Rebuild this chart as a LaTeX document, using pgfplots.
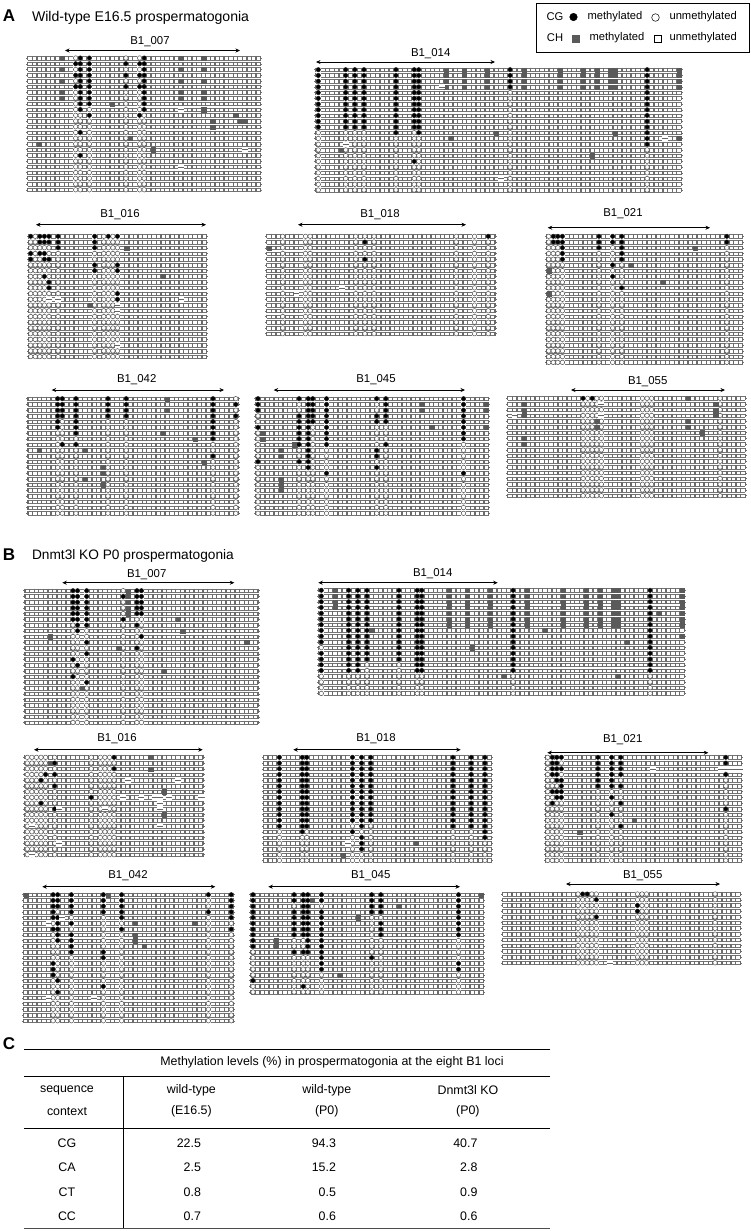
\documentclass[border=0pt]{standalone}
\usepackage{fontspec}
\setmainfont{Liberation Sans}
\usepackage{pgfplots}
\pgfplotsset{compat=1.18}
\usetikzlibrary{arrows.meta}
\pgfdeclareplotmark{wcell}{\pgfsetfillcolor{white}\pgfpathrectangle{\pgfpoint{-2.2pt}{-2.2pt}}{\pgfpoint{4.4pt}{4.4pt}}\pgfusepathqfill}
\pgfdeclareplotmark{miss}{\pgfsetfillcolor{white}\pgfpathrectangle{\pgfpoint{-2.9pt}{-2.4pt}}{\pgfpoint{5.8pt}{4.8pt}}\pgfusepathqfill\pgfpathmoveto{\pgfpoint{-3pt}{0pt}}\pgfpathlineto{\pgfpoint{3pt}{0pt}}\pgfusepathqstroke}
\definecolor{mgray}{HTML}{5A5A5A}
\pgfplotsset{
 panel/.style={hide axis,clip=false,x=4.567pt,y=5.73pt,y dir=reverse,anchor=north west,unbounded coords=jump},
 rowsty/.style={black!55,line width=0.45pt,no markers},
 railsty/.style={black!55,line width=0.35pt,no markers},
 rungsty/.style={black!58,line width=1.3pt,no markers,dash pattern=on 3.95pt off 1.78pt},
 wcsty/.style={only marks,mark=wcell},
 cisty/.style={only marks,mark=*,mark size=2.25pt,mark options={fill=white,draw=black!70,line width=0.5pt}},
 blsty/.style={only marks,mark=*,mark size=2pt,mark options={fill=black,draw=black,line width=0.2pt}},
 grsty/.style={only marks,mark=square*,mark size=2.1pt,mark options={fill=mgray,draw=mgray,line width=0.2pt}},
 misty/.style={only marks,mark=miss,mark options={draw=black!60,line width=0.45pt}},
}
\newcommand\MakeGrid[3]{%
 \gdef\cirlist{}\gdef\rowlist{}\gdef\raillist{}\gdef\runglist{}%
 \pgfmathtruncatemacro\lastr{#1-1}%
 \pgfmathsetmacro\rowend{#2+0.85}%
 \pgfmathsetmacro\railend{#2+0.5}%
 \pgfmathsetmacro\rungbot{#1-1+0.345}%
 \pgfmathtruncatemacro\lastrung{#2+1}%
 \foreach \cc in {0,...,\lastrung}{%
  \pgfmathsetmacro\xr{\cc-0.5}%
  \xdef\runglist{\runglist(\xr,-0.345)(\xr,\rungbot)(nan,nan)}%
 }%
 \foreach \rr in {0,...,\lastr}{%
  \pgfmathsetmacro\ru{\rr-0.314}\pgfmathsetmacro\rd{\rr+0.314}%
  \xdef\rowlist{\rowlist(-0.85,\rr)(-0.5,\rr)(nan,nan)(\railend,\rr)(\rowend,\rr)(nan,nan)}%
  \xdef\raillist{\raillist(-0.5,\ru)(\railend,\ru)(nan,nan)(-0.5,\rd)(\railend,\rd)(nan,nan)}%
  \foreach \cc in {#3}{\xdef\cirlist{\cirlist(\cc,\rr)}}%
 }%
}
\newcommand\ExpandRows[2]{%
 \gdef#1{}%
 \def\tmpa{#2}%
 \ifx\tmpa\empty\else
 \foreach \rs/\cols in {#2}{%
  \foreach \rr in \rs{\foreach \cc in \cols{\xdef#1{#1(\cc,\rr)}}}}%
 \fi
}
\newcommand\PlotList[2]{%
 \ifx#2\empty\else
 \edef\tmpb{\noexpand\addplot[#1] coordinates {#2};}\tmpb
 \fi
}
% x0, y0, rows, last column, circle columns, black, gray, missing
\newcommand\Panel[8]{%
 \MakeGrid{#3}{#4}{#5}%
 \ExpandRows\blist{#6}\ExpandRows\glist{#7}\ExpandRows\mlist{#8}%
 \pgfmathsetmacro\ax{#1-4.567}\pgfmathsetmacro\ay{#2-5.73}%
 \pgfmathtruncatemacro\xm{#4+1}\pgfmathtruncatemacro\ym{#3}%
 \begin{axis}[panel,at={(\ax pt,-\ay pt)},xmin=-1,xmax=\xm,ymin=-1,ymax=\ym]
 \PlotList{rowsty}\rowlist
 \PlotList{railsty}\raillist
 \PlotList{rungsty}\runglist
 \PlotList{wcsty}\cirlist
 \PlotList{cisty}\cirlist
 \PlotList{grsty}\glist
 \PlotList{blsty}\blist
 \PlotList{misty}\mlist
 \end{axis}%
}
\newcommand\Lab[6]{%
 \node[font=\fontsize{11.4}{13}\selectfont] at (axis cs:#1,#2) {#3};
 \addplot[black,line width=0.6pt,no markers,{Stealth[length=4.5pt,width=4pt]}-{Stealth[length=4.5pt,width=4pt]}] coordinates {(#4,#6)(#5,#6)};
}
\newcommand\T[3]{\node[font=\fontsize{12.4}{14}\selectfont] at (axis cs:#1,#2) {#3};}
\newcommand\TR[3]{\node[anchor=east,font=\fontsize{12.4}{14}\selectfont] at (axis cs:#1,#2) {#3};}
\newcommand\LG[4]{\node[anchor=#4,font=\fontsize{11.2}{13}\selectfont] at (axis cs:#1,#2) {#3};}
\begin{document}
\begin{tikzpicture}
\path[use as bounding box] (0,0) rectangle (750pt,-1231pt);
\begin{axis}[hide axis,clip=false,x=1pt,y=1pt,y dir=reverse,anchor=north west,at={(0,0)},xmin=0,xmax=750,ymin=0,ymax=1231]
\node[font=\fontsize{17}{19}\selectfont\bfseries] at (axis cs:9,15.5) {A};
\node[font=\fontsize{17}{19}\selectfont\bfseries] at (axis cs:9,555) {B};
\node[font=\fontsize{17}{19}\selectfont\bfseries] at (axis cs:9,1044) {C};
\node[anchor=west,font=\fontsize{14.1}{16}\selectfont] at (axis cs:28.5,18) {Wild-type E16.5 prospermatogonia};
\node[anchor=west,font=\fontsize{13.7}{16}\selectfont] at (axis cs:28.5,556) {Dnmt3l KO P0 prospermatogonia};
\Lab{150}{42}{B1\_007}{65}{240}{50.5}
\Lab{430.7}{54}{B1\_014}{316}{495}{62}
\Lab{120}{214.7}{B1\_016}{36}{206}{224.7}
\Lab{380}{214.7}{B1\_018}{298}{466}{224.7}
\Lab{623}{214}{B1\_021}{547.7}{710}{227.7}
\Lab{136.7}{380}{B1\_042}{51.7}{224}{390}
\Lab{376}{380}{B1\_045}{273.7}{465}{390}
\Lab{647.7}{382}{B1\_055}{571}{725}{390}
\Lab{146.7}{575}{B1\_007}{62.3}{234.3}{582.7}
\Lab{432.7}{574}{B1\_014}{318.3}{497.7}{582.7}
\Lab{117}{739}{B1\_016}{34}{202.7}{749.7}
\Lab{376}{739}{B1\_018}{293.3}{460.7}{749.7}
\Lab{622.7}{739.3}{B1\_021}{547.3}{708.3}{752.7}
\Lab{128}{875.7}{B1\_042}{42.3}{215.3}{886.7}
\Lab{370.7}{875.7}{B1\_045}{268.3}{460}{886.7}
\Lab{642.7}{875.7}{B1\_055}{566}{720}{884}
% legend
\addplot[black,line width=0.7pt,no markers] coordinates {(536,3)(749,3)(749,52)(536,52)(536,3)};
\LG{555}{16.5}{CG}{center}
\LG{555}{38}{CH}{center}
\addplot[only marks,mark=*,mark size=3.8pt,mark options={fill=black,draw=black}] coordinates {(573.5,17)};
\addplot[only marks,mark=*,mark size=3.8pt,mark options={fill=white,draw=black,line width=0.5pt}] coordinates {(655.5,17.5)};
\addplot[only marks,mark=square*,mark size=3.6pt,mark options={fill=mgray,draw=mgray}] coordinates {(576,38.5)};
\addplot[only marks,mark=square*,mark size=3.6pt,mark options={fill=white,draw=black,line width=0.5pt}] coordinates {(657.5,38.5)};
\LG{584}{16.5}{methylated}{west}
\LG{666}{16.5}{unmethylated}{west}
\LG{586}{38}{methylated}{west}
\LG{666}{38}{unmethylated}{west}
% table rules
\addplot[black,line width=0.8pt,no markers] coordinates {(24,1049)(550,1049)};
\addplot[black,line width=0.8pt,no markers] coordinates {(24,1076)(550,1076)};
\addplot[black,line width=0.8pt,no markers] coordinates {(24,1128)(550,1128)};
\addplot[black!70,line width=1pt,no markers] coordinates {(24,1228)(550,1228)};
\addplot[black,line width=0.8pt,no markers] coordinates {(123,1076)(123,1228)};
\T{332}{1062}{Methylation levels (\%) in prospermatogonia at the eight B1 loci}
\T{67}{1090}{sequence}\T{67}{1111.7}{context}
\T{191.4}{1090}{wild-type}\T{191.4}{1111.7}{(E16.5)}
\T{326.8}{1090}{wild-type}\T{326.8}{1111.7}{(P0)}
\T{467.9}{1090}{Dnmt3l KO}\T{467.9}{1111.7}{(P0)}
\T{67}{1143.3}{CG}\T{67}{1167.7}{CA}\T{67}{1192}{CT}\T{67}{1216}{CC}
\TR{204.5}{1143.3}{22.5}\TR{339.5}{1143.3}{94.3}\TR{481}{1143.3}{40.7}
\TR{204.5}{1167.7}{2.5}\TR{339.5}{1167.7}{15.2}\TR{481}{1167.7}{2.8}
\TR{204.5}{1192}{0.8}\TR{339.5}{1192}{0.5}\TR{481}{1192}{0.9}
\TR{204.5}{1216}{0.7}\TR{339.5}{1216}{0.6}\TR{481}{1216}{0.6}
\end{axis}
% A B1_007
\Panel{30}{58}{24}{50}{10,11,13,21,24,25}%
{{1,3,5}/{10,11,13,21,24,25},{0,2,4,6,7}/{11,13,25},8/{11,13,25},9/{11,25},10/{13,24},13/{11},17/{11}}%
{{0,2,4,6,7}/{33,38},{2,4,6,7}/{7},0/{7},8/{18},9/{38},10/{45},11/{40,46,47},12/{40},14/{22},15/{2},16/{27}}%
{9/{33},16/{47},19/{33}}
% A B1_014
\Panel{318.3}{69.7}{22}{79}{0,6,8,10,17,21,22,42,72}%
{{0,1,2,3}/{0,6,8,10,17,21,22,42,72},{4,5,6,7,8,9,10}/{0,6,8,10,17,21,22,72},11/{17,22,72},{12,13}/{72},16/{21}}%
{{0,1,2,3}/{28,32,37,45,53,58,61,64,65,79},11/{39,65},12/{29,79},14/{5},15/{60}}%
{3/{27},12/{76},13/{6},19/{40}}
% A B1_016
\Panel{30.7}{236.3}{22}{38}{0,1,2,3,4,6,14,16,17,18,19}%
{0/{0,2,3,4,6,14,17,19},1/{2,3,4,6,14},2/{6,14},3/{0,2,3},4/{0,3,4},{5,6}/{14,19},7/{3},{8,9}/{4},{10,11}/{19}}%
{2/{21},7/{29},12/{13}}%
{11/{4,6,33},{12,13,19}/{19}}
% A B1_018
\Panel{269}{236.3}{18}{49}{3,8,9,19,21,23,41,45,48}%
{0/{48},{1,4}/{21}}%
{2/{0}}%
{9/{16},10/{6}}
% A B1_021
\Panel{548.7}{236.3}{23}{42}{0,1,2,3,11,14,16,39}%
{{0,1}/{1,2,3,11,14,16,39},2/{3,11,16},{3,4}/{3,16},{5,7}/{14},9/{16}}%
{2/{32},5/{18},{6,10}/{0},8/{25}}%
{}
% A B1_042
\Panel{30.3}{398.7}{21}{45}{6,7,10,17,21,40,45}%
{{0,2}/{6,7,10,17,21,40},{1,3}/{6,7,10,17,21,40,45},{4,5}/{6,10,40},6/{10,40},7/{40},8/{7,10},10/{40}}%
{{0,2}/{30},6/{29},7/{36},9/{2,12},11/{38},{12,13,15}/{16},14/{12}}%
{}
% A B1_045
\Panel{258}{398.7}{21}{50}{0,9,11,12,15,26,28,45}%
{0/{0,9,11,12,15,26,28,45},{1,2}/{0,11,12,15,28,45},{3,4}/{9,11,12,15,26,28,45},5/{0,9,11,15,45},{6,7}/{9,11,15,45},8/{9,11,15,28},{9,10}/{11,26},11/{0,9,11},12/{11,26},13/{15,45}}%
{{1,2}/{36,50},5/{38,50},{6,7}/{1},8/{8},{9,10,14,15,16}/{5}}%
{}
% A B1_055
\Panel{510}{398.3}{18}{51}{16,17,18,19,20,29,30,31,46}%
{0/{16,18}}%
{{1,2,3,7,8}/{3},{4,5}/{19,39},0/{39},6/{42},{1,2,3}/{45}}%
{3/{1},{1,3}/{20}}
% B B1_007
\Panel{27.3}{590.7}{24}{50}{10,11,13,21,24,25}%
{{0,2,3,4}/{10,11,13,24,25},1/{10,11,13,21,24,25},5/{10,11,13,21},6/{11,13,24},7/{11},8/{25},9/{13},10/{24},11/{13},12/{10},13/{11},15/{10},16/{13}}%
{{0,1,2,3,4}/{22},5/{33},7/{34},8/{5},9/{48},10/{20},14/{30},17/{12}}%
{}
% B B1_014
\Panel{321.3}{590.3}{19}{79}{0,6,8,10,17,21,22,42,72}%
{{0,1,2,3,4,5,6,7,8,9,11,12}/{0,6,8,10,17,21,22,42,72},10/{6,8,10,17,21,22,42,72},{13,14}/{0,6,8,21,22,42,72}}%
{{0,1,2,3}/{3},{0,1,2,3,4,5,6}/{28,32,37,45,53,58,61,64,65,79},4/{74},7/{11,49},8/{79},9/{67},10/{33},15/{40,65}}%
{}
% B B1_016
\Panel{27.3}{757.3}{18}{38}{0,1,2,3,4,6,14,16,17,18,19}%
{0/{19},1/{6},2/{19},3/{4,6},4/{3},5/{6},7/{14},8/{3},9/{6}}%
{1/{5},{0,2}/{27},{6,10}/{30}}%
{4/{22,33},7/{21,25,28,29,31,38},8/{29},9/{7,17,29},{12,17}/{1},12/{29},15/{7}}
% B B1_018
\Panel{265.7}{757.3}{19}{49}{3,8,9,19,21,23,41,45,48}%
{{0,1,2,3,4,5,6,7,8,9,10,11}/{3,8,9,19,21,23,41,45,48},12/{3,8,9,21,41,45,48},13/{8,19,48},14/{21,48},{15,16}/{21}}%
{15/{33},17/{17}}%
{15/{18}}
% B B1_021
\Panel{547.7}{757.3}{19}{42}{0,1,2,3,11,14,16,39}%
{0/{1,2,3,11,14,16,39},1/{1,2,11,14,16,39},2/{1,2,3,11,14,16},3/{1,2,11,14,16,39},4/{2,3,11,14},5/{3,11,14,16},6/{1,2,3},7/{2,3,14},8/{1,16},9/{39},10/{14},12/{16}}%
{11/{19},13/{7}}%
{2/{23,38,39,40,41,42}}
% B B1_042
\Panel{25.7}{894.7}{23}{45}{6,7,10,17,21,40,45}%
{0/{6,7,10,17,21,40,45},{1,2}/{6,7,10,17,21,45},3/{6,10,17,21,40,45},{4,6}/{6,7,21,45},{5,7,8}/{7,10},9/{10},10/{10,17},11/{17},{12,13,14}/{6},{15,17}/{7},16/{17}}%
{0/{0,18},5/{24,37},{7,8}/{24},9/{26}}%
{4/{8},5/{5},18/{5,15}}
% B B1_045
\Panel{253}{894.7}{18}{50}{0,9,11,12,15,26,28,45}%
{{0,1,3}/{0,9,11,12,15,26,28,45},2/{0,11,12,26,28,45},4/{0,9,11,12,15,45},{5,6,7}/{0,9,11,12,15,28,45},{8,9}/{0,12,15},10/{9,11,12,15},11/{15,26},{12,13}/{15,45},15/{0},16/{11}}%
{0/{50},1/{13},2/{32},4/{23},{8,9}/{5},14/{19}}%
{}
% B B1_055
\Panel{505}{894}{13}{51}{16,17,18,19,20,29,30,31,46}%
{0/{17,18},{1,4}/{20},{2,3}/{29}}%
{}%
{12/{23}}
\end{tikzpicture}
\end{document}
